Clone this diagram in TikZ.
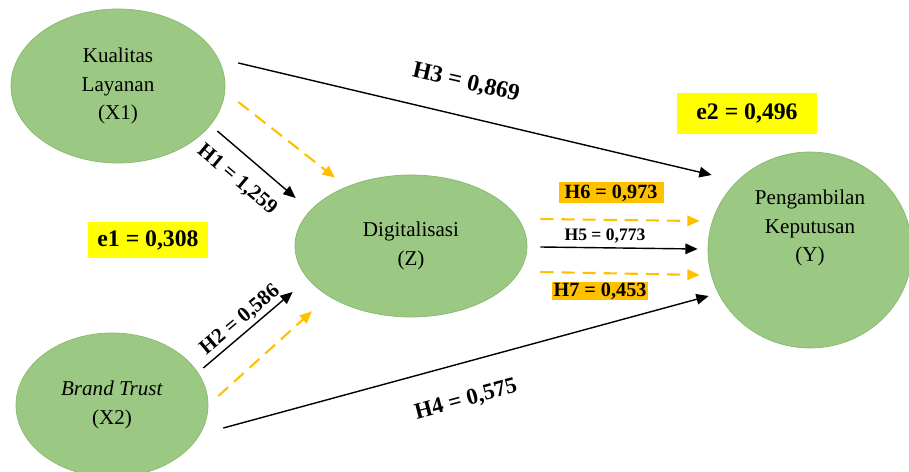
\documentclass[tikz,border=0pt]{standalone}
\usepackage{fontspec}
\setmainfont{Liberation Serif}
\usetikzlibrary{arrows.meta, positioning, shapes.geometric}
\definecolor{latgreen}{RGB}{155,200,130}
\definecolor{latedge}{RGB}{135,185,110}
\definecolor{medgold}{RGB}{255,192,0}
\definecolor{errfill}{RGB}{255,255,0}

\begin{document}
\begin{tikzpicture}[->,>={Triangle[length=7pt,width=6pt]},
    latent/.style={ellipse, draw=latedge, fill=latgreen, inner sep=0pt, align=center,
      font=\fontsize{12}{16.2}\selectfont},
    direct/.style={line width=0.8pt},
    mediated/.style={medgold, line width=1.2pt, dash pattern=on 7.5pt off 4.5pt},
    coef/.style={font=\fontsize{12}{14}\selectfont\bfseries, inner sep=1pt},
    errbox/.style={fill=errfill, font=\fontsize{13.5}{16}\selectfont\bfseries, inner sep=0pt},
    indbox/.style={fill=medgold, font=\fontsize{11.5}{13}\selectfont\bfseries, inner sep=0pt}]
    \useasboundingbox (0,0) rectangle (18.18,9.44);

    % latent variables
    \node[latent, minimum width=4.28cm, minimum height=3.08cm] (X1) at (2.36,7.72) {Kualitas\\Layanan\\(X1)};
    \node[latent, minimum width=3.84cm, minimum height=2.88cm] (X2) at (2.24,1.34) {\textit{Brand Trust}\\(X2)};
    \node[latent, minimum width=4.64cm, minimum height=2.84cm] (Z) at (8.22,4.52) {Digitalisasi\\(Z)};
    \node[latent, minimum width=4.08cm, minimum height=3.92cm] (Y) at (16.2,4.44) {};
    \node[align=center, font=\fontsize{12}{16.2}\selectfont] (Ytext) at ([yshift=0.44cm]Y.center) {Pengambilan\\Keputusan\\(Y)};

    % error terms
    \node[errbox, minimum width=2.4cm, minimum height=0.72cm] (e1) at (2.96,4.64) {e1 = 0,308};
    \node[errbox, minimum width=2.8cm, minimum height=0.82cm] (e2) at (14.94,7.17) {e2 = 0,496};

    % direct paths
    \draw[direct] ([shift={(0.26,0.46)}]X1.east) -- ([shift={(0.08,1.50)}]Y.west);
    \draw[direct] ([shift={(-0.16,-0.90)}]X1.east) -- ([shift={(0.02,0.96)}]Z.west);
    \draw[direct] ([shift={(-0.10,0.74)}]X2.east) -- ([shift={(-0.04,-0.92)}]Z.west);
    \draw[direct] ([shift={(0.30,-0.46)}]X2.east) -- ([shift={(0.02,-0.92)}]Y.west);
    \draw[direct] ([shift={(0.26,-0.02)}]Z.east) -- ([shift={(-0.20,0.02)}]Y.west);

    % mediated paths
    \draw[mediated] ([shift={(0.26,-0.32)}]X1.east) -- ([shift={(-1.52,-0.06)}]Z.north);
    \draw[mediated] ([shift={(0.20,0.18)}]X2.east) -- ([shift={(-1.98,0.12)}]Z.south);
    \draw[mediated] ([shift={(0.26,0.54)}]Z.east) -- ([shift={(-0.16,0.58)}]Y.west);
    \draw[mediated] ([shift={(0.26,-0.52)}]Z.east) -- ([shift={(-0.16,-0.50)}]Y.west);

    % coefficients
    \node[coef, rotate=-13, font=\fontsize{13.5}{15}\selectfont\bfseries] (h3) at (9.32,7.78) {H3 = 0,869};
    \node[coef, rotate=-40] (h1) at (4.74,5.84) {H1 = 1,259};
    \node[coef, rotate=40] (h2) at (4.80,3.04) {H2 = 0,586};
    \node[coef, rotate=15, font=\fontsize{13}{15}\selectfont\bfseries] (h4) at (9.32,1.44) {H4 = 0,575};
    \node[coef, font=\fontsize{10}{12}\selectfont\bfseries] (h5) at (12.10,4.72) {H5 = 0,773};
    \node[indbox, minimum width=2.1cm, minimum height=0.42cm] (h6) at (12.22,5.58) {H6 = 0,973};
    \node[indbox, minimum width=1.92cm, minimum height=0.36cm] (h7) at (12.00,3.62) {H7 = 0,453};
  \end{tikzpicture}
\end{document}
